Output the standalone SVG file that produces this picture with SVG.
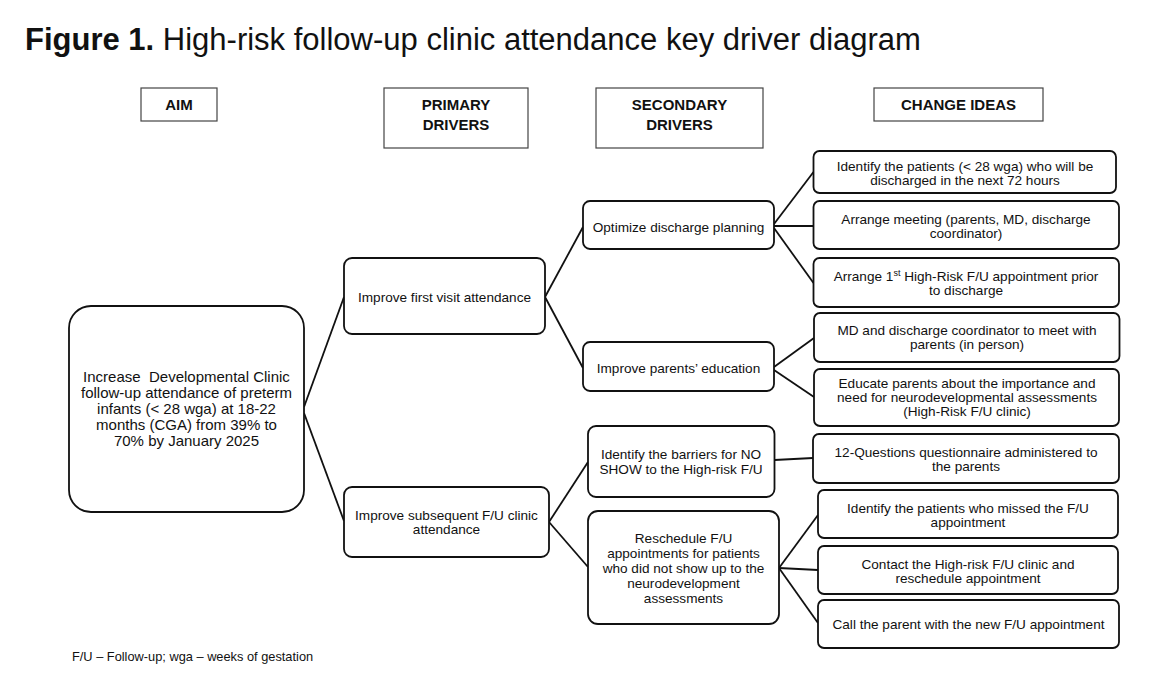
<svg xmlns="http://www.w3.org/2000/svg" width="1170" height="689" viewBox="0 0 1170 689">
<style>
text{font-family:"Liberation Sans",Arial,sans-serif;fill:#111}
.t{font-size:13.6px;text-anchor:middle}
.a{font-size:15px;text-anchor:middle}
.h{font-size:15px;font-weight:bold;text-anchor:middle}
.hb{fill:#fff;stroke:#444;stroke-width:1.2}
.n{fill:#fff;stroke:#111;stroke-width:1.8}
.c line{stroke:#111;stroke-width:1.8}
</style>
<rect width="1170" height="689" fill="#fff"/>
<text x="25" y="50" font-size="31"><tspan font-weight="bold">Figure 1.</tspan> High-risk follow-up clinic attendance key driver diagram</text>
<g id="headers">
<rect class="hb" x="141" y="88" width="76" height="33"/><text class="h" x="179" y="110">AIM</text>
<rect class="hb" x="384" y="88" width="144" height="60"/><text class="h" x="456" y="110">PRIMARY</text><text class="h" x="456" y="130">DRIVERS</text>
<rect class="hb" x="596" y="88" width="167" height="60"/><text class="h" x="679.5" y="110">SECONDARY</text><text class="h" x="679.5" y="130">DRIVERS</text>
<rect class="hb" x="874" y="88" width="169" height="33"/><text class="h" x="958.5" y="110">CHANGE IDEAS</text>
</g>
<g class="c" id="connectors">
<line x1="304" y1="407" x2="344" y2="297"/>
<line x1="304" y1="413" x2="344" y2="521"/>
<line x1="545" y1="297" x2="583" y2="227"/>
<line x1="545" y1="297" x2="583" y2="368"/>
<line x1="549" y1="522" x2="588" y2="462"/>
<line x1="549" y1="522" x2="588" y2="567"/>
<line x1="774" y1="224" x2="813.5" y2="172"/>
<line x1="774" y1="226" x2="813.5" y2="226"/>
<line x1="774" y1="228" x2="813.5" y2="283"/>
<line x1="774" y1="367" x2="814" y2="338"/>
<line x1="774" y1="370" x2="814" y2="397"/>
<line x1="774.5" y1="460" x2="813" y2="458"/>
<line x1="779" y1="568" x2="818" y2="515"/>
<line x1="779" y1="568" x2="818" y2="570"/>
<line x1="779" y1="568" x2="818" y2="623"/>
</g>
<g id="aim"><rect class="n" x="69" y="306" width="235" height="206" rx="22"/>
<text class="a" x="186.5" y="382">Increase&#160; Developmental Clinic</text>
<text class="a" x="186.5" y="398">follow-up attendance of preterm</text>
<text class="a" x="186.5" y="414">infants (&lt; 28 wga) at 18-22</text>
<text class="a" x="186.5" y="430">months (CGA) from 39% to</text>
<text class="a" x="186.5" y="446">70% by January 2025</text></g>
<g id="p1"><rect class="n" x="344" y="258" width="201" height="76" rx="8"/>
<text class="t" x="444.5" y="302">Improve first visit attendance</text></g>
<g id="p2"><rect class="n" x="344" y="487" width="205" height="70" rx="8"/>
<text class="t" x="446.5" y="520">Improve subsequent F/U clinic</text>
<text class="t" x="446.5" y="534">attendance</text></g>
<g id="s1"><rect class="n" x="583" y="201" width="191" height="48" rx="7"/>
<text class="t" x="678.5" y="232">Optimize discharge planning</text></g>
<g id="s2"><rect class="n" x="583" y="342" width="191" height="49" rx="7"/>
<text class="t" x="678.5" y="373">Improve parents’ education</text></g>
<g id="s3"><rect class="n" x="588" y="426" width="186.5" height="71" rx="8"/>
<text class="t" x="681" y="459">Identify the barriers for NO</text>
<text class="t" x="681" y="474">SHOW to the High-risk F/U</text></g>
<g id="s4"><rect class="n" x="588" y="511" width="191" height="113" rx="10"/>
<text class="t" x="683.5" y="543">Reschedule F/U</text>
<text class="t" x="683.5" y="558">appointments for patients</text>
<text class="t" x="683.5" y="573">who did not show up to the</text>
<text class="t" x="683.5" y="588">neurodevelopment</text>
<text class="t" x="683.5" y="603">assessments</text></g>
<g id="c1"><rect class="n" x="813.5" y="151" width="302.5" height="42" rx="6"/>
<text class="t" x="965" y="171">Identify the patients (&lt; 28 wga) who will be</text>
<text class="t" x="965" y="185">discharged in the next 72 hours</text></g>
<g id="c2"><rect class="n" x="813.5" y="201" width="305.5" height="48" rx="6"/>
<text class="t" x="966" y="224">Arrange meeting (parents, MD, discharge</text>
<text class="t" x="966" y="238">coordinator)</text></g>
<g id="c3"><rect class="n" x="813.5" y="258" width="305.5" height="49" rx="6"/>
<text class="t" x="966" y="281">Arrange 1<tspan font-size="9" dy="-5">st</tspan><tspan dy="5"> High-Risk F/U appointment prior</tspan></text>
<text class="t" x="966" y="295">to discharge</text></g>
<g id="c4"><rect class="n" x="814" y="313" width="305.5" height="49" rx="6"/>
<text class="t" x="967" y="335">MD and discharge coordinator to meet with</text>
<text class="t" x="967" y="349">parents (in person)</text></g>
<g id="c5"><rect class="n" x="814" y="369" width="305" height="57" rx="6"/>
<text class="t" x="967" y="388">Educate parents about the importance and</text>
<text class="t" x="967" y="402">need for neurodevelopmental assessments</text>
<text class="t" x="967" y="416">(High-Risk F/U clinic)</text></g>
<g id="c6"><rect class="n" x="813" y="434" width="306" height="49" rx="6"/>
<text class="t" x="966" y="457">12-Questions questionnaire administered to</text>
<text class="t" x="966" y="471">the parents</text></g>
<g id="c7"><rect class="n" x="818" y="490" width="300" height="48" rx="6"/>
<text class="t" x="968" y="513">Identify the patients who missed the F/U</text>
<text class="t" x="968" y="527">appointment</text></g>
<g id="c8"><rect class="n" x="818" y="546" width="300" height="48" rx="6"/>
<text class="t" x="968" y="569">Contact the High-risk F/U clinic and</text>
<text class="t" x="968" y="583">reschedule appointment</text></g>
<g id="c9"><rect class="n" x="818" y="600" width="301" height="48" rx="6"/>
<text class="t" x="968.5" y="629">Call the parent with the new F/U appointment</text></g>
<text x="72" y="661" font-size="12.8">F/U – Follow-up; wga – weeks of gestation</text>
</svg>
